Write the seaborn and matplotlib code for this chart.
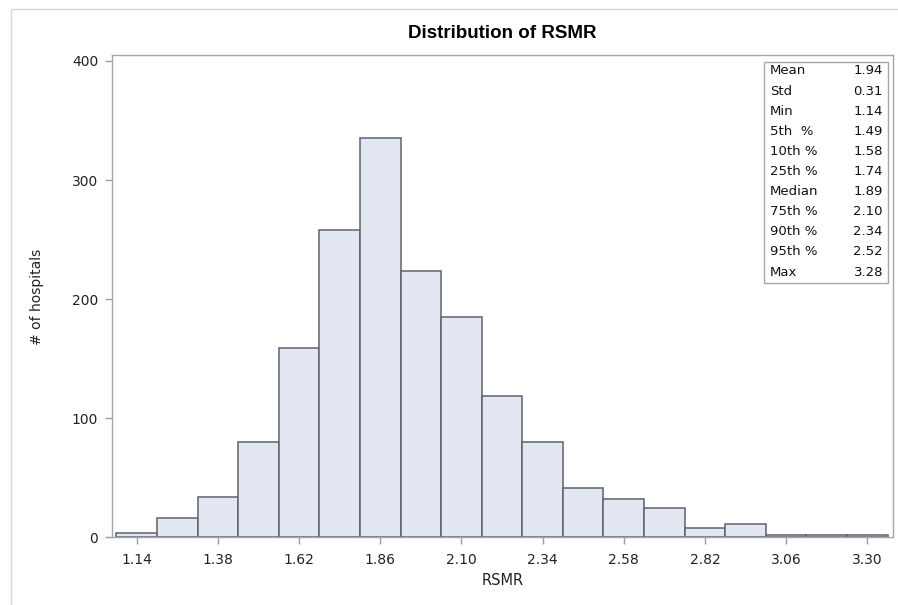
import numpy as np
import pandas as pd
import seaborn as sns
from matplotlib import pyplot as plt
from matplotlib.lines import Line2D
from matplotlib.patches import Rectangle

# histogram: bin midpoints (width 0.12) and counts
bin_mids = [1.14, 1.26, 1.38, 1.50, 1.62, 1.74, 1.86, 1.98, 2.10, 2.22,
            2.34, 2.46, 2.58, 2.70, 2.82, 2.94, 3.06, 3.18, 3.30]
counts = [4, 16, 34, 80, 159, 258, 335, 224, 185, 119,
          80, 41, 32, 25, 8, 11, 2, 2, 2]
x_ticks = [1.14, 1.38, 1.62, 1.86, 2.10, 2.34, 2.58, 2.82, 3.06, 3.30]
y_ticks = [0, 100, 200, 300, 400]

stat_names = ["Mean", "Std", "Min", "5th  %", "10th %", "25th %",
              "Median", "75th %", "90th %", "95th %", "Max"]
stat_values = ["1.94", "0.31", "1.14", "1.49", "1.58", "1.74",
               "1.89", "2.10", "2.34", "2.52", "3.28"]

sns.set_theme(style="white")
plt.rcParams['font.family'] = ['DejaVu Sans']

df = pd.DataFrame({"RSMR": bin_mids, "n": counts})
width = 0.12
edges = [round(m - width / 2, 3) for m in bin_mids] + [round(bin_mids[-1] + width / 2, 3)]

fig = plt.figure(figsize=(8.98, 6.05), dpi=100)
ax = fig.add_axes([112 / 898, 67.7 / 605, 781 / 898, 482.3 / 605])

sns.histplot(data=df, x="RSMR", weights="n", bins=edges, ax=ax,
             color="#E3E7F1", alpha=1, edgecolor="#5E636B", linewidth=1.1)

ax.set_xlim(1.067, 3.376)
ax.set_ylim(0, 405)
ax.set_xticks(x_ticks)
ax.set_xticklabels([f"{t:.2f}" for t in x_ticks])
ax.set_yticks(y_ticks)
ax.tick_params(axis="both", direction="out", length=5, width=1, color="#9A9DA2",
               labelsize=10, labelcolor="#222222", pad=5,
               bottom=True, left=True)
ax.tick_params(axis="x", pad=6)
for sp in ax.spines.values():
    sp.set_visible(True)
    sp.set_color("#A3A6AB")
    sp.set_linewidth(1)

ax.set_xlabel("RSMR", fontsize=10.5, color="#222222")
ax.xaxis.set_label_coords(0.5, -0.075)
ax.set_ylabel("")
fig.text(37 / 898, 1 - 297 / 605, "# of hospitals", rotation=90, ha="center",
         va="center", fontsize=10, color="#222222")

fig.text(502 / 898, 1 - 33 / 605, "Distribution of RSMR", ha="center", va="center",
         fontsize=13.5, fontweight="bold", color="black",
         family=["Liberation Sans", "DejaVu Sans"])

# statistics inset box
bx0, bx1 = (764 - 112) / 781, (888 - 112) / 781
by0, by1 = (537.3 - 283) / 482.3, (537.3 - 62) / 482.3
ax.add_patch(Rectangle((bx0, by0), bx1 - bx0, by1 - by0, transform=ax.transAxes,
                       facecolor="white", edgecolor="#A3A6AB", linewidth=1, zorder=5))
for i, (nm, val) in enumerate(zip(stat_names, stat_values)):
    yy = (537.3 - 71 - 20.1 * i) / 482.3
    ax.text((770 - 112) / 781, yy, nm, transform=ax.transAxes, ha="left", va="center",
            fontsize=9.5, color="#111111", zorder=6)
    ax.text((883 - 112) / 781, yy, val, transform=ax.transAxes, ha="right", va="center",
            fontsize=9.5, color="#111111", zorder=6)

# faint outer frame of the graph area
fig.add_artist(Line2D([11 / 898, 1], [1 - 9 / 605, 1 - 9 / 605], color="#D6D6D6", lw=1))
fig.add_artist(Line2D([11 / 898, 11 / 898], [0, 1 - 9 / 605], color="#D6D6D6", lw=1))

plt.savefig("out.png", dpi=100)
